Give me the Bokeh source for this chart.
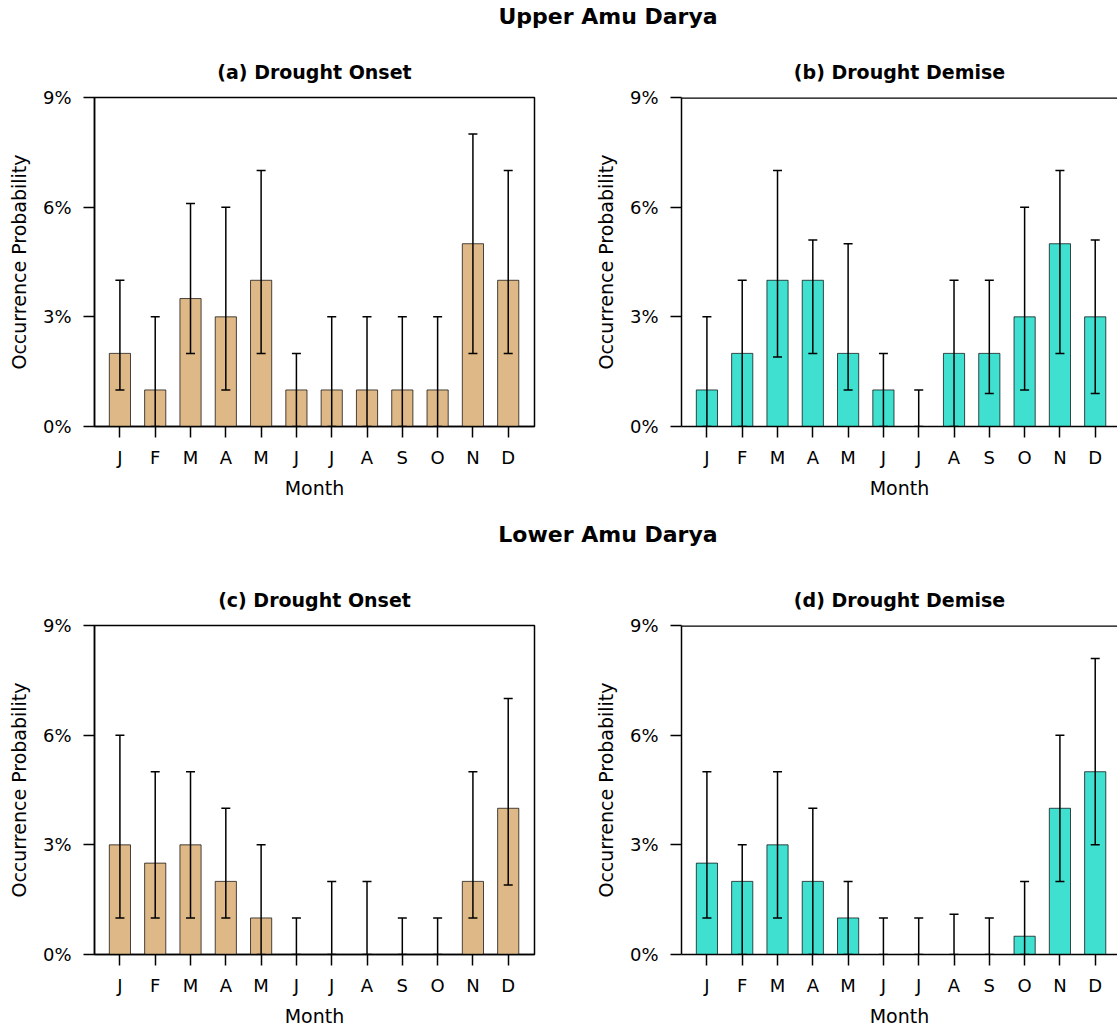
from bokeh.plotting import figure
from bokeh.layouts import column, row
from bokeh.models import (Whisker, TeeHead, ColumnDataSource, FixedTicker,
                          PrintfTickFormatter, Span, Range1d)
from bokeh.embed import file_html
from bokeh.resources import INLINE

# ---------------- data ----------------
months = ["J", "F", "M", "A", "M", "J", "J", "A", "S", "O", "N", "D"]
month_idx = list(range(12))
y_ticks = [0, 3, 6, 9]

upper_onset = [2, 1, 3.5, 3, 4, 1, 1, 1, 1, 1, 5, 4]
upper_onset_lo = [1, 0, 2, 1, 2, 0, 0, 0, 0, 0, 2, 2]
upper_onset_hi = [4, 3, 6.1, 6, 7, 2, 3, 3, 3, 3, 8, 7]

upper_demise = [1, 2, 4, 4, 2, 1, 0, 2, 2, 3, 5, 3]
upper_demise_lo = [0, 0, 1.9, 2, 1, 0, 0, 0, 0.9, 1, 2, 0.9]
upper_demise_hi = [3, 4, 7, 5.1, 5, 2, 1, 4, 4, 6, 7, 5.1]

lower_onset = [3, 2.5, 3, 2, 1, 0, 0, 0, 0, 0, 2, 4]
lower_onset_lo = [1, 1, 1, 1, 0, 0, 0, 0, 0, 0, 1, 1.9]
lower_onset_hi = [6, 5, 5, 4, 3, 1, 2, 2, 1, 1, 5, 7]

lower_demise = [2.5, 2, 3, 2, 1, 0, 0, 0, 0, 0.5, 4, 5]
lower_demise_lo = [1, 0, 1, 0, 0, 0, 0, 0, 0, 0, 2, 3]
lower_demise_hi = [5, 3, 5, 4, 2, 1, 1, 1.1, 1, 2, 6, 8.1]

ONSET_COLOR = "#DEB887"
DEMISE_COLOR = "#40E0D0"
FONT = "DejaVu Sans"

# ---------------- layout constants ----------------
TOTAL_W = 1117
FRAME_W_LEFT = 440
FRAME_H = 329
PX_PER_UNIT = 35.3
X_START = -0.72


def make_panel(title, vals, lo, hi, color, is_left, top_border, bottom_border):
    if is_left:
        border_l, border_r = 94, 20
        frame_w = FRAME_W_LEFT
    else:
        border_l, border_r = 127, 0
        frame_w = TOTAL_W - (94 + FRAME_W_LEFT + 20) - 127
    x_end = X_START + frame_w / PX_PER_UNIT
    p = figure(width=border_l + frame_w + border_r,
               height=top_border + FRAME_H + bottom_border,
               x_range=Range1d(X_START, x_end), y_range=Range1d(0, 9),
               output_backend="svg", toolbar_location=None, title=title,
               min_border_left=border_l, min_border_right=border_r,
               min_border_top=top_border, min_border_bottom=bottom_border)
    p.title.text_font = FONT
    p.title.text_font_size = "19px"
    p.title.text_font_style = "bold"
    p.title.align = "center"
    p.title.text_color = "black"
    p.title.standoff = 30
    p.grid.visible = False
    p.background_fill_color = "white"
    p.border_fill_color = "white"

    src = ColumnDataSource(dict(x=month_idx, top=vals, lo=lo, hi=hi))
    p.vbar(x="x", top="top", width=0.6, source=src, fill_color=color,
           line_color="black", line_alpha=0.7, line_width=1)
    w = Whisker(base="x", lower="lo", upper="hi", source=src,
                dimension="height", line_color="black", line_width=1.5,
                level="annotation",
                upper_head=TeeHead(size=9, line_width=1.5, line_color="black"),
                lower_head=TeeHead(size=9, line_width=1.5, line_color="black"))
    p.add_layout(w)

    if is_left:
        p.outline_line_color = "black"
        p.outline_line_width = 1.5
        p.outline_line_alpha = 1
    else:
        p.outline_line_color = None
        p.add_layout(Span(location=9, dimension="width", line_color="black",
                          line_width=2.5))

    for ax in (p.xaxis, p.yaxis):
        ax.axis_line_color = "black"
        ax.axis_line_width = 1.5
        ax.major_tick_line_color = "black"
        ax.major_tick_line_width = 1.5
        ax.major_tick_out = 11
        ax.major_tick_in = 0
        ax.minor_tick_line_color = None
        ax.major_label_text_font = FONT
        ax.major_label_text_font_size = "18px"
        ax.major_label_text_color = "black"
        ax.axis_label_text_font = FONT
        ax.axis_label_text_font_size = "19px"
        ax.axis_label_text_font_style = "normal"
        ax.axis_label_text_color = "black"

    p.xaxis.ticker = FixedTicker(ticks=month_idx)
    p.xaxis.major_label_overrides = {i: m for i, m in zip(month_idx, months)}
    p.xaxis.axis_label = "Month"
    p.xaxis.major_label_standoff = 9
    p.xaxis.axis_label_standoff = 6

    p.yaxis.ticker = FixedTicker(ticks=y_ticks)
    p.yaxis.formatter = PrintfTickFormatter(format="%d%%")
    p.yaxis.axis_label = "Occurrence Probability"
    p.yaxis.major_label_standoff = 12
    p.yaxis.axis_label_standoff = 10
    return p


def make_strip(text, height, standoff):
    s = figure(width=TOTAL_W, height=height, output_backend="svg",
               toolbar_location=None, x_axis_type=None, y_axis_type=None,
               title=text, min_border_left=98, min_border_right=0,
               min_border_top=0, min_border_bottom=0,
               x_range=Range1d(0, 1), y_range=Range1d(0, 1))
    s.outline_line_color = None
    s.grid.visible = False
    s.title.text_font = FONT
    s.title.text_font_size = "22px"
    s.title.text_font_style = "bold"
    s.title.align = "center"
    s.title.text_color = "black"
    s.title.standoff = standoff
    return s


strip_top = make_strip("Upper Amu Darya", 40, 2)
pa = make_panel("(a) Drought Onset", upper_onset, upper_onset_lo, upper_onset_hi,
                ONSET_COLOR, True, 57, 80)
pb = make_panel("(b) Drought Demise", upper_demise, upper_demise_lo, upper_demise_hi,
                DEMISE_COLOR, False, 57, 80)
strip_mid = make_strip("Lower Amu Darya", 54, 26)
pc = make_panel("(c) Drought Onset", lower_onset, lower_onset_lo, lower_onset_hi,
                ONSET_COLOR, True, 65, 75)
pd_ = make_panel("(d) Drought Demise", lower_demise, lower_demise_lo, lower_demise_hi,
                 DEMISE_COLOR, False, 65, 75)

layout = column(strip_top, row(pa, pb), strip_mid, row(pc, pd_))

open("out.html", "w").write(file_html(layout, INLINE))
